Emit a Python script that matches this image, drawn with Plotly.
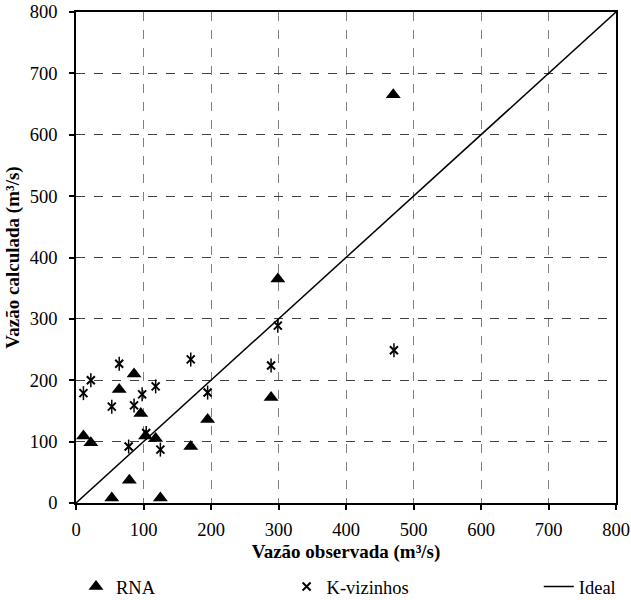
import plotly.graph_objects as go

# RNA (triangles)
rna_obs = [11, 22, 64, 86, 96, 103, 118, 170, 195, 79, 53, 125, 299, 289, 470]
rna_calc = [109, 98, 185, 210, 146, 109, 105, 92, 136, 37, 8, 8, 365, 172, 665]

# K-vizinhos (stars)
knn_obs = [11, 22, 64, 53, 86, 98, 118, 170, 195, 104, 78, 125, 299, 289, 471]
knn_calc = [179, 200, 227, 157, 159, 177, 190, 234, 180, 114, 92, 87, 289, 224, 249]

# Ideal line
ideal_x = [0, 800]
ideal_y = [0, 800]

tick_vals = [0, 100, 200, 300, 400, 500, 600, 700, 800]

FONT = "Liberation Serif"

fig = go.Figure()

fig.add_trace(go.Scatter(
    x=ideal_x, y=ideal_y, mode="lines", name="Ideal",
    line=dict(color="black", width=1.5), legend="legend3"))

fig.add_trace(go.Scatter(
    x=rna_obs, y=rna_calc, mode="markers", name="RNA",
    marker=dict(symbol="triangle-up", size=13, color="black"),
    legend="legend"))

fig.add_trace(go.Scatter(
    x=knn_obs, y=knn_calc, mode="markers", name="K-vizinhos",
    marker=dict(symbol="x-thin-open", size=8, color="black",
                line=dict(color="black", width=2)),
    legend="legend2"))

fig.add_trace(go.Scatter(
    x=knn_obs, y=knn_calc, mode="markers", showlegend=False,
    marker=dict(symbol="line-ns-open", size=10, color="black",
                line=dict(color="black", width=1.5)),
    hoverinfo="skip"))

axis_common = dict(
    range=[0, 800], tickvals=tick_vals, showline=True, mirror=True,
    linecolor="black", linewidth=1.5, ticks="outside", ticklen=5,
    tickcolor="black", tickwidth=1.5, showgrid=True, griddash="dash",
    gridwidth=1, zeroline=False,
    tickfont=dict(family=FONT, size=18.5, color="black"),
)

fig.update_xaxes(**axis_common, gridcolor="#808080", ticklabelstandoff=4,
                 title=dict(text="<b>Vazão observada (m³/s)</b>",
                            font=dict(family=FONT, size=19, color="black"),
                            standoff=6))
fig.update_yaxes(**axis_common, gridcolor="#404040", ticklabelstandoff=8,
                 title=dict(text="<b>Vazão calculada (m³/s)</b>",
                            font=dict(family=FONT, size=19, color="black"),
                            standoff=5))

leg_common = dict(orientation="h", yanchor="middle", y=-0.171,
                  xanchor="left", bgcolor="rgba(0,0,0,0)",
                  font=dict(family=FONT, size=18.5, color="black"),
                  itemwidth=30)

fig.update_layout(
    width=631, height=600,
    margin=dict(l=76, r=15, t=12, b=97, autoexpand=False),
    plot_bgcolor="white", paper_bgcolor="white",
    font=dict(family=FONT, size=18.5, color="black"),
    legend=dict(**leg_common, x=0.0),
    legend2=dict(**leg_common, x=0.39),
    legend3=dict(**leg_common, x=0.857),
)

fig.write_html("out.html")
